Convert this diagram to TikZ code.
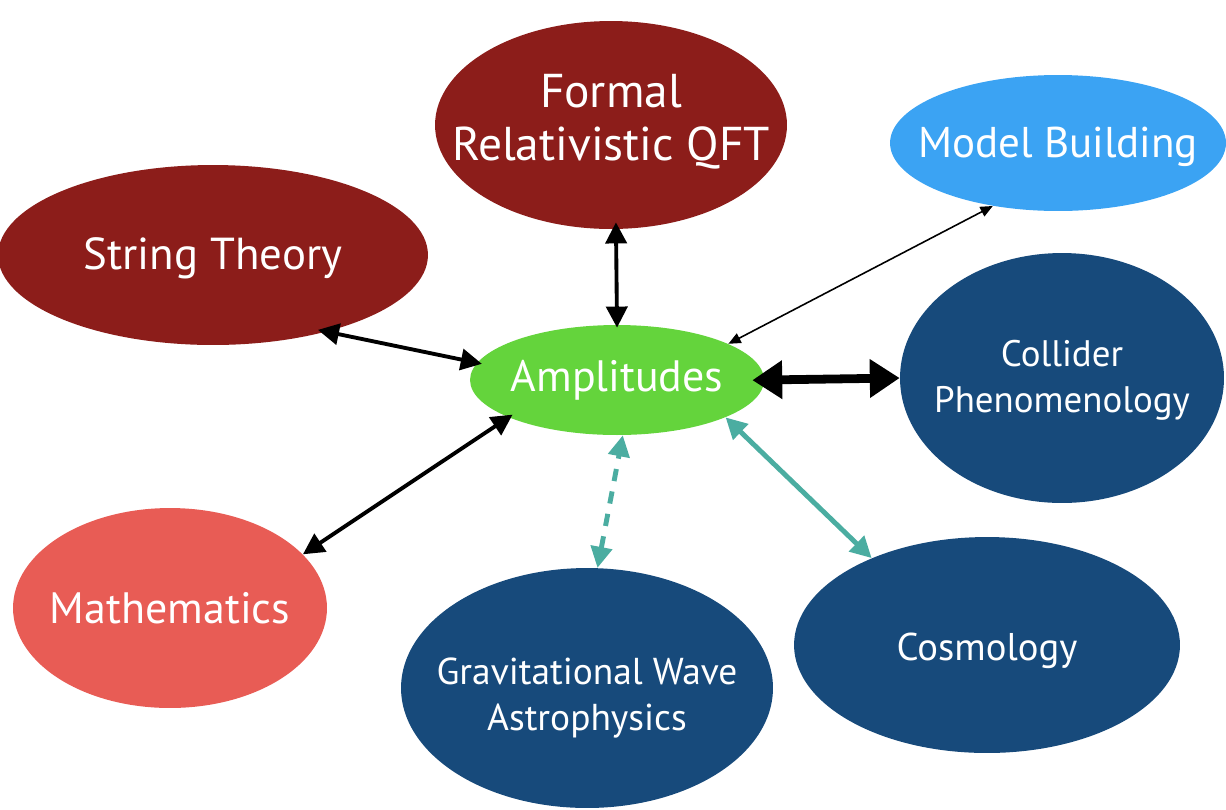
\documentclass[tikz,border=0pt]{standalone}
\usepackage{fontspec}
\setmainfont{PT Sans}
\usetikzlibrary{shapes.geometric,arrows.meta}
\definecolor{darkred}{HTML}{8C1D1A}
\definecolor{skyblue}{HTML}{3BA3F3}
\definecolor{ampgreen}{HTML}{64D43C}
\definecolor{navy}{HTML}{174A7B}
\definecolor{salmon}{HTML}{E85C55}
\definecolor{tealc}{HTML}{4BADA1}
\newcommand{\lowerby}[2]{\raisebox{0pt}[\dimexpr\height+#1\relax][\depth]{#2}}
\newcommand{\raiseby}[2]{\raisebox{0pt}[\height][\dimexpr\depth+#1\relax]{#2}}
\tikzset{
  bubble/.style={ellipse, inner sep=-4cm, text=white, align=center},
  blk/.style={draw=black, line width=2.2pt, {Triangle[length=12pt,width=12pt]}-{Triangle[length=12pt,width=12pt]}},
  thinblk/.style={draw=black, line width=0.9pt, {Triangle[length=7pt,width=6pt]}-{Triangle[length=7pt,width=6pt]}},
  fatblk/.style={draw=black, line width=5pt, {Triangle[length=17pt,width=21pt]}-{Triangle[length=17pt,width=21pt]}},
  tealarr/.style={draw=tealc, line width=2.8pt, {Triangle[length=12pt,width=12pt]}-{Triangle[length=12pt,width=12pt]}},
}
\begin{document}
\begin{tikzpicture}[x=0.02cm,y=-0.02cm]
\useasboundingbox (0,0) rectangle (1226,809);
\node[bubble, font=\fontsize{27}{31}\selectfont, fill=darkred, minimum width=7.04cm, minimum height=4.16cm] (qft) at (611,125) {\raiseby{2.5pt}{\begin{tabular}{@{}c@{}}Formal\\[-1pt]Relativistic QFT\end{tabular}}};
\node[bubble, font=\fontsize{24.5}{30}\selectfont, fill=skyblue, minimum width=6.72cm, minimum height=2.72cm] (model) at (1058,143) {\lowerby{4.5pt}{Model Building}};
\node[bubble, font=\fontsize{25.5}{30}\selectfont, fill=darkred, minimum width=8.6cm, minimum height=3.6cm] (string) at (213,255) {\lowerby{3.4pt}{String Theory}};
\node[bubble, font=\fontsize{25}{30}\selectfont, fill=ampgreen, minimum width=5.88cm, minimum height=2.2cm] (amp) at (617,380) {Amplitudes};
\node[bubble, font=\fontsize{21}{26}\selectfont, fill=navy, minimum width=6.48cm, minimum height=5cm] (coll) at (1062,378) {\lowerby{3pt}{\begin{tabular}{@{}c@{}}Collider\\Phenomenology\end{tabular}}};
\node[bubble, font=\fontsize{25}{30}\selectfont, fill=salmon, minimum width=6.28cm, minimum height=4cm] (math) at (170,608) {Mathematics};
\node[bubble, font=\fontsize{21.3}{26}\selectfont, fill=navy, minimum width=7.44cm, minimum height=4.8cm] (gw) at (587,688) {\lowerby{11.4pt}{\begin{tabular}{@{}c@{}}Gravitational Wave\\Astrophysics\end{tabular}}};
\node[bubble, font=\fontsize{22}{27}\selectfont, fill=navy, minimum width=7.72cm, minimum height=4.32cm] (cosmo) at (987,645) {\lowerby{6.8pt}{Cosmology}};

\draw[blk, shorten <=-0.18cm, shorten >=-0.1cm] (string.-34) -- (amp.173);
\draw[blk, shorten <=-0.14cm, shorten >=-0.06cm] ([xshift=0.1cm]qft.south) -- (amp.north);
\draw[thinblk] (model.224) -- (amp.18);
\draw[fatblk, shorten <=-0.24cm] (amp.east) -- (coll.west);
\draw[blk, shorten >=-0.1cm] (math.22) -- (amp.199);
\draw[tealarr, dash pattern=on 7pt off 6pt] (gw.85) -- (amp.-84);
\draw[tealarr] (cosmo.143) -- (amp.-19);
\end{tikzpicture}
\end{document}
